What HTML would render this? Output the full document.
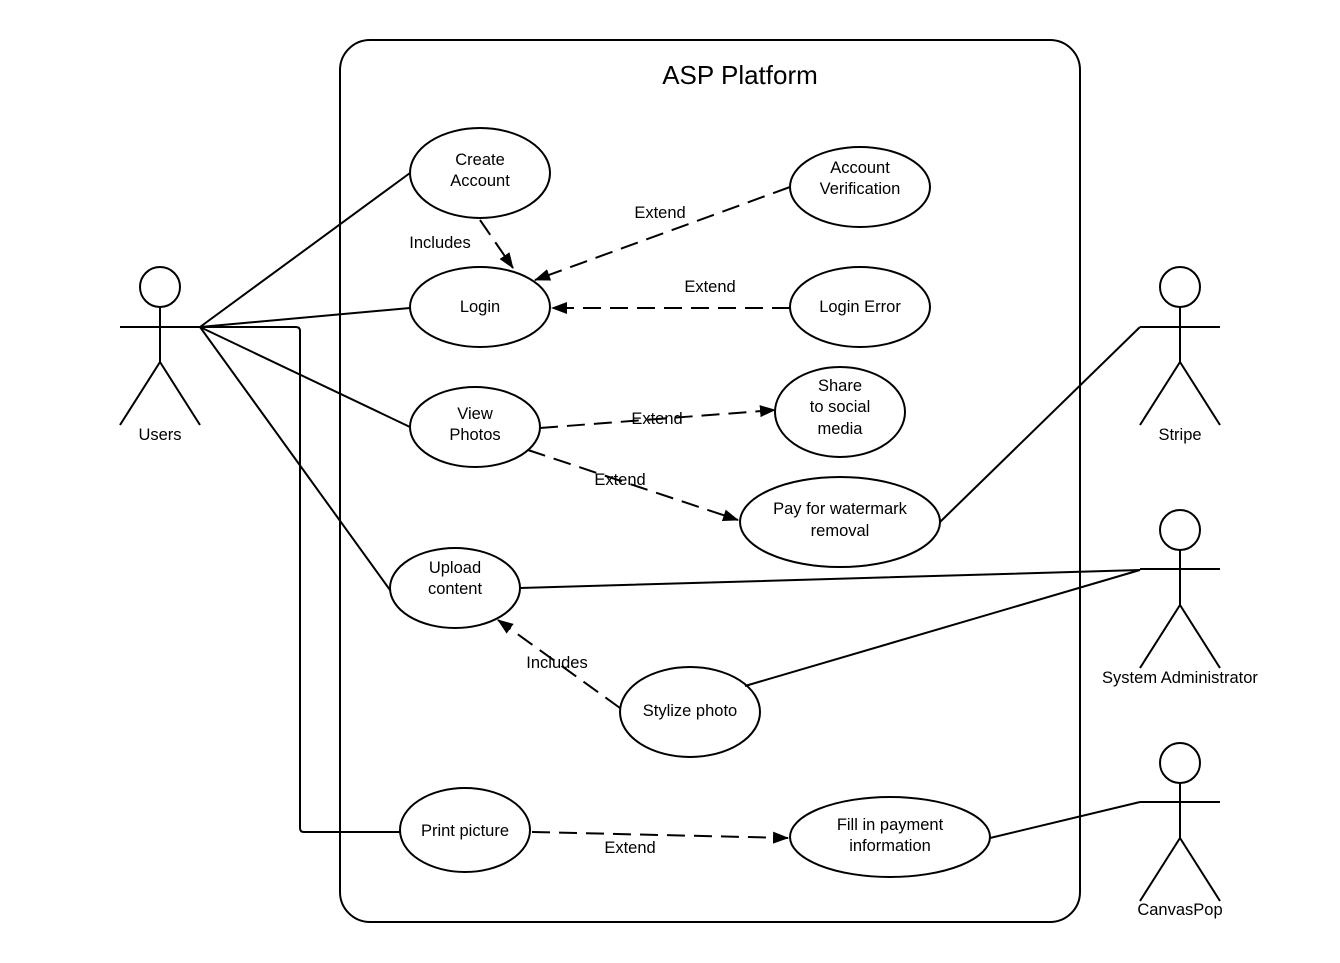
<!DOCTYPE html>
<html><head><style>body{margin:0;background:#fff}svg{display:block}text{font-family:"Liberation Sans",sans-serif;font-size:16.5px;text-anchor:middle;fill:#000}</style></head>
<body>
<svg width="1340" height="963" viewBox="0 0 1340 963" xmlns="http://www.w3.org/2000/svg">
<defs><marker id="a" markerWidth="16" markerHeight="12" refX="15" refY="6" orient="auto" markerUnits="userSpaceOnUse"><path d="M0,0 L16,6 L0,12 z" fill="#000"/></marker></defs>
<g fill="none" stroke="#000" stroke-width="2">
<rect x="340" y="40" width="740" height="882" rx="30"/>
<ellipse cx="480" cy="173" rx="70" ry="45" fill="#fff"/>
<ellipse cx="860" cy="187" rx="70" ry="40"/>
<ellipse cx="480" cy="307" rx="70" ry="40"/>
<ellipse cx="860" cy="307" rx="70" ry="40"/>
<ellipse cx="475" cy="427" rx="65" ry="40"/>
<ellipse cx="840" cy="412" rx="65" ry="45"/>
<ellipse cx="840" cy="522" rx="100" ry="45"/>
<ellipse cx="455" cy="588" rx="65" ry="40"/>
<ellipse cx="690" cy="712" rx="70" ry="45"/>
<ellipse cx="465" cy="830" rx="65" ry="42"/>
<ellipse cx="890" cy="837" rx="100" ry="40"/>
<circle cx="160" cy="287" r="20"/><path d="M120,327H200M160,307V362L120,425M160,362L200,425"/>
<circle cx="1180" cy="287" r="20"/><path d="M1140,327H1220M1180,307V362L1140,425M1180,362L1220,425"/>
<circle cx="1180" cy="530" r="20"/><path d="M1140,569H1220M1180,550V605L1140,668M1180,605L1220,668"/>
<circle cx="1180" cy="763" r="20"/><path d="M1140,802H1220M1180,783V838L1140,901M1180,838L1220,901"/>
<path d="M200,327L410,173M200,327L410,308M200,327L410,427M200,327L390,590"/>
<path d="M200,327H296Q300,327 300,331V828Q300,832 304,832H400"/>
<path d="M1140,327L940,522M1140,570L520,588M1140,570L745,686M1140,802L990,838"/>
<g stroke-dasharray="18,9" marker-end="url(#a)">
<path d="M480,220L513,268"/>
<path d="M790,187L535,280"/>
<path d="M790,308L552,308"/>
<path d="M540,428L775,410"/>
<path d="M528,450L738,520"/>
<path d="M620,708L498,620"/>
<path d="M532,832L788,838"/>
</g>
</g>
<text x="740" y="84" style="font-size:26px">ASP Platform</text>
<text x="480" y="165">Create</text><text x="480" y="186">Account</text>
<text x="860" y="173">Account</text><text x="860" y="194">Verification</text>
<text x="480" y="312">Login</text>
<text x="860" y="312">Login Error</text>
<text x="475" y="419">View</text><text x="475" y="440">Photos</text>
<text x="840" y="391">Share</text><text x="840" y="412">to social</text><text x="840" y="434">media</text>
<text x="840" y="514">Pay for watermark</text><text x="840" y="536">removal</text>
<text x="455" y="573">Upload</text><text x="455" y="594">content</text>
<text x="690" y="716">Stylize photo</text>
<text x="465" y="836">Print picture</text>
<text x="890" y="830">Fill in payment</text><text x="890" y="851">information</text>
<text x="160" y="440">Users</text>
<text x="1180" y="440">Stripe</text>
<text x="1180" y="683">System Administrator</text>
<text x="1180" y="915">CanvasPop</text>
<text x="440" y="248">Includes</text>
<text x="660" y="218">Extend</text>
<text x="710" y="292">Extend</text>
<text x="657" y="424">Extend</text>
<text x="620" y="485">Extend</text>
<text x="557" y="668">Includes</text>
<text x="630" y="853">Extend</text>
</svg>
</body></html>
